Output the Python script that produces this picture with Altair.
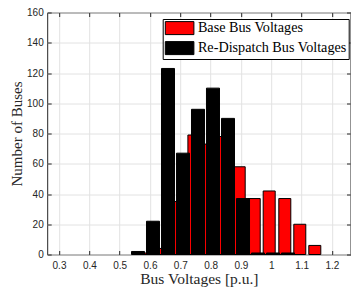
import altair as alt
import pandas as pd

# ---- data ----
series_names = ["Base Bus Voltages", "Re-Dispatch Bus Voltages"]
series_colors = ["#ff0000", "#000000"]

base_centers = [0.5954, 0.6452, 0.6950, 0.7448, 0.7946, 0.8444,
                0.8941, 0.9436, 0.9930, 1.0445, 1.0939, 1.1434]
base_counts = [1, 4, 35, 79, 73, 78, 58, 37, 42, 37, 20, 6]

redispatch_centers = [0.5605, 0.6099, 0.6594, 0.7088, 0.7583, 0.8077,
                      0.8572, 0.9067, 0.9561, 1.0056, 1.0550]
redispatch_counts = [2, 22, 123, 67, 96, 110, 90, 37, 1, 1, 1]

x_ticks = [0.3, 0.4, 0.5, 0.6, 0.7, 0.8, 0.9, 1.0, 1.1, 1.2]
y_ticks = [0, 20, 40, 60, 80, 100, 120, 140, 160]

# ---- styling constants ----
BASE_WIDTH = 0.0396
REDISPATCH_WIDTH = 0.0429
X_DOMAIN = [0.2611, 1.2611]
Y_DOMAIN = [0, 160]
W, H = 303.3, 242.0
AX = "#262626"
GRID = "#e2e2e2"
SANS = "Liberation Sans"
SERIF = "Liberation Serif"

rows = []
for c, n in zip(base_centers, base_counts):
    rows.append({"series": series_names[0], "lo": c - BASE_WIDTH / 2,
                 "hi": c + BASE_WIDTH / 2, "count": n})
for c, n in zip(redispatch_centers, redispatch_counts):
    rows.append({"series": series_names[1], "lo": c - REDISPATCH_WIDTH / 2,
                 "hi": c + REDISPATCH_WIDTH / 2, "count": n})
df = pd.DataFrame(rows)

xscale = alt.Scale(domain=X_DOMAIN, nice=False, zero=False)
yscale = alt.Scale(domain=Y_DOMAIN, nice=False)

tick_axis = dict(labels=False, grid=False, domain=False, ticks=True,
                 tickSize=4, tickColor=AX, tickWidth=1, title=None)

bars = alt.Chart(df).mark_rect(stroke="black", strokeWidth=1).encode(
    x=alt.X("lo:Q", scale=xscale, axis=alt.Axis(
        orient="bottom", values=x_ticks, format=".1~f", grid=True,
        gridColor=GRID, gridWidth=1, ticks=False, tickSize=0, domain=False,
        labelFont=SANS, labelFontSize=10, labelColor=AX, labelPadding=6,
        title="Bus Voltages [p.u.]", titleFont=SERIF, titleFontSize=15.5,
        titleFontWeight="normal", titleColor=AX, titleY=28.5,
        titleBaseline="alphabetic")),
    x2="hi:Q",
    y=alt.Y("count:Q", scale=yscale, axis=alt.Axis(
        orient="left", values=y_ticks, grid=True, gridColor=GRID,
        gridWidth=1, ticks=False, tickSize=0, domain=False,
        labelFont=SANS, labelFontSize=10, labelColor=AX, labelPadding=4,
        title="Number of Buses", titleFont=SERIF, titleFontSize=15,
        titleFontWeight="normal", titleColor=AX, titleX=-25.5,
        titleY=H / 2, titleAngle=270, titleAlign="center",
        titleBaseline="alphabetic")),
    y2=alt.datum(0),
    color=alt.Color("series:N", scale=alt.Scale(domain=series_names,
                                                 range=series_colors),
                    legend=alt.Legend(
                        title=None, orient="none", legendX=115.5, legendY=6.5,
                        symbolType="M-1,-1H3.4V1H-1Z", symbolSize=169,
                        symbolStrokeColor="black", symbolStrokeWidth=1,
                        symbolOpacity=1,
                        labelFont=SERIF, labelFontSize=14.2, labelColor="black",
                        labelOffset=19, labelLimit=0, rowPadding=2, padding=2,
                        strokeColor="black", fillColor="white")),
)

ticks_a = alt.Chart(df).mark_rect(opacity=0).encode(
    x=alt.X("lo:Q", scale=xscale, axis=alt.Axis(
        orient="top", offset=-H, values=x_ticks, **tick_axis)),
    x2="hi:Q",
    y=alt.Y("count:Q", scale=yscale, axis=alt.Axis(
        orient="right", offset=-W, values=y_ticks, **tick_axis)),
    y2=alt.datum(0),
)

ticks_b = alt.Chart(df).mark_rect(opacity=0).encode(
    x=alt.X("lo:Q", scale=xscale, axis=alt.Axis(
        orient="bottom", offset=-H, values=x_ticks, **tick_axis)),
    x2="hi:Q",
    y=alt.Y("count:Q", scale=yscale, axis=alt.Axis(
        orient="left", offset=-W, values=y_ticks, **tick_axis)),
    y2=alt.datum(0),
)

chart = alt.layer(bars, ticks_a, ticks_b).resolve_axis(
    x="independent", y="independent"
).properties(
    width=W, height=H,
    autosize=alt.AutoSizeParams(type="none"),
    padding={"left": 39.2, "top": 4.5, "right": 0.5, "bottom": 33.5},
).configure_view(stroke=AX, strokeWidth=1)

chart.save("out.html", embed_options={"renderer": "svg", "actions": False})
